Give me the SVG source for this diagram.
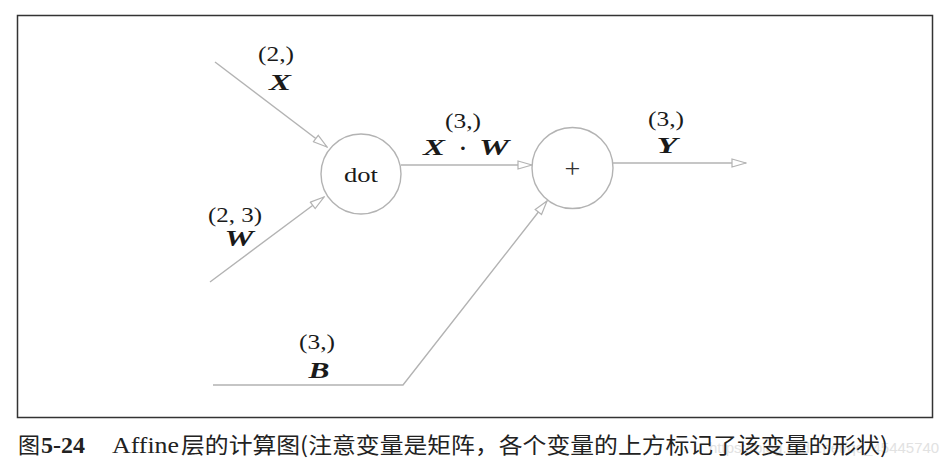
<svg xmlns="http://www.w3.org/2000/svg" width="950" height="471" viewBox="0 0 950 471">
<style>
.edge{fill:none;stroke:#b3b3b3;stroke-width:1.4}
.node{fill:#fff;stroke:#b3b3b3;stroke-width:1.4}
.num{font-family:"Liberation Serif","DejaVu Serif",serif;font-size:22px;fill:#1a1a1a;text-anchor:middle}
.var{font-family:"Liberation Serif","DejaVu Serif",serif;font-size:23px;font-weight:bold;font-style:italic;fill:#1a1a1a;text-anchor:middle}
.cap{font-family:"Noto Sans CJK SC","Noto Sans",sans-serif;font-size:22px;fill:#222}
</style>
<defs>
<marker id="arr" viewBox="0 0 16 10" refX="15" refY="5" markerWidth="16" markerHeight="10" markerUnits="userSpaceOnUse" orient="auto">
<path d="M1,1 L15,5 L1,9 Z" fill="#fff" stroke="#b3b3b3" stroke-width="1.2"/>
</marker>
</defs>
<rect width="950" height="471" fill="#fff"/>
<rect x="17.5" y="15.5" width="915" height="402" fill="none" stroke="#333" stroke-width="1.5"/>
<g id="connectors">
<line class="edge" x1="215" y1="62" x2="327" y2="147" marker-end="url(#arr)"/>
<line class="edge" x1="210" y1="282" x2="324" y2="197" marker-end="url(#arr)"/>
<line class="edge" x1="401" y1="165" x2="532" y2="165" marker-end="url(#arr)"/>
<polyline class="edge" points="213,385 403,385 547,201" marker-end="url(#arr)"/>
<line class="edge" x1="613" y1="163" x2="746" y2="163" marker-end="url(#arr)"/>
</g>
<g id="node-dot">
<circle class="node" cx="361" cy="174" r="40"/>
<text x="361" y="182" class="num" textLength="34" lengthAdjust="spacingAndGlyphs">dot</text>
</g>
<g id="node-plus">
<circle class="node" cx="572.5" cy="168" r="40.5"/>
<text x="572.5" y="178" class="num" style="font-size:28px;fill:#333">+</text>
</g>
<g id="label-X">
<text x="276" y="61" class="num" textLength="36" lengthAdjust="spacingAndGlyphs">(2,)</text>
<text x="280" y="90" class="var" textLength="22" lengthAdjust="spacingAndGlyphs">X</text>
</g>
<g id="label-W">
<text x="235" y="222" class="num" textLength="54" lengthAdjust="spacingAndGlyphs">(2, 3)</text>
<text x="239" y="246" class="var" textLength="29" lengthAdjust="spacingAndGlyphs">W</text>
</g>
<g id="label-XW">
<text x="463" y="128" class="num" textLength="36" lengthAdjust="spacingAndGlyphs">(3,)</text>
<text x="434" y="155" class="var" textLength="22" lengthAdjust="spacingAndGlyphs">X</text>
<text x="463" y="155" class="num" style="font-weight:bold">·</text>
<text x="494" y="155" class="var" textLength="30" lengthAdjust="spacingAndGlyphs">W</text>
</g>
<g id="label-Y">
<text x="666" y="126" class="num" textLength="36" lengthAdjust="spacingAndGlyphs">(3,)</text>
<text x="667" y="153" class="var" textLength="21" lengthAdjust="spacingAndGlyphs">Y</text>
</g>
<g id="label-B">
<text x="317" y="349" class="num" textLength="36" lengthAdjust="spacingAndGlyphs">(3,)</text>
<text x="319" y="378" class="var" textLength="21" lengthAdjust="spacingAndGlyphs">B</text>
</g>
<g id="caption">
<text x="709" y="453" style="font-family:'Liberation Sans',Arial,sans-serif;font-size:15px;fill:#e2e2e2">https://blog.csdn.net/qq_45445740</text>
<text x="18" y="453" class="cap">图</text>
<text x="41" y="453" style="font-family:'Liberation Serif','DejaVu Serif',serif;font-size:23px;font-weight:bold;fill:#222" textLength="44" lengthAdjust="spacingAndGlyphs">5-24</text>
<text x="112" y="453" style="font-family:'Liberation Serif','DejaVu Serif',serif;font-size:24px;fill:#222" textLength="67" lengthAdjust="spacingAndGlyphs">Affine</text>
<text x="181" y="453" class="cap" textLength="707" lengthAdjust="spacingAndGlyphs">层的计算图(注意变量是矩阵，各个变量的上方标记了该变量的形状)</text>
</g>
</svg>
